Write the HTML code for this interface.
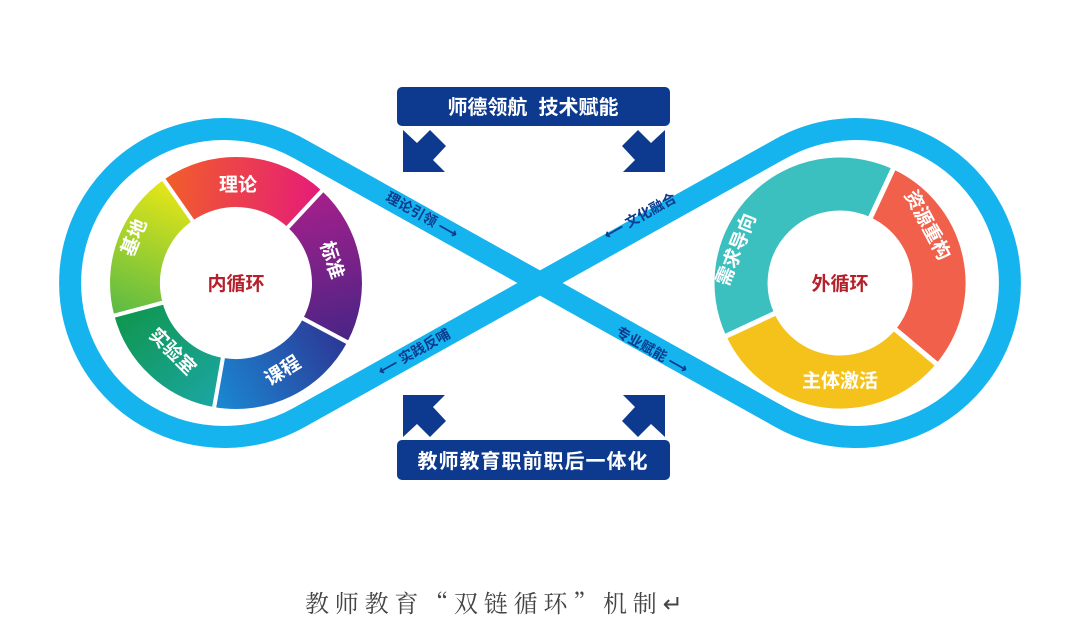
<!DOCTYPE html>
<html><head><meta charset="utf-8"><style>
html,body{margin:0;padding:0;background:#fff;width:1080px;height:626px;overflow:hidden}
svg text{font-family:"Liberation Sans","Noto Sans CJK SC",sans-serif;font-weight:bold}
.cap{position:absolute;left:305px;top:584px;font-family:"Noto Serif CJK SC","Liberation Serif",serif;font-size:24px;letter-spacing:5.8px;color:#444;white-space:nowrap}
</style></head><body>
<svg id="s" width="1080" height="626" viewBox="0 0 1080 626" style="position:absolute;left:0;top:0">
<defs>
<linearGradient id="g1" gradientUnits="userSpaceOnUse" x1="150" y1="180" x2="330" y2="200"><stop offset="0" stop-color="#f26522"/><stop offset="1" stop-color="#e5177d"/></linearGradient>
<linearGradient id="g2" gradientUnits="userSpaceOnUse" x1="300" y1="180" x2="340" y2="340"><stop offset="0" stop-color="#b01f8c"/><stop offset="1" stop-color="#4a2485"/></linearGradient>
<linearGradient id="g3" gradientUnits="userSpaceOnUse" x1="350" y1="320" x2="210" y2="400"><stop offset="0" stop-color="#2e2f8f"/><stop offset="1" stop-color="#1a8ad4"/></linearGradient>
<linearGradient id="g4" gradientUnits="userSpaceOnUse" x1="220" y1="410" x2="120" y2="300"><stop offset="0" stop-color="#1ba7a7"/><stop offset="1" stop-color="#0f9548"/></linearGradient>
<linearGradient id="g5" gradientUnits="userSpaceOnUse" x1="120" y1="320" x2="180" y2="175"><stop offset="0" stop-color="#57b947"/><stop offset="1" stop-color="#f2ea12"/></linearGradient>
</defs>
<g fill="none" stroke="#16b4ee" stroke-width="22" stroke-linejoin="miter">
<path d="M540,283 L300,149 A154,154 0 1 0 300,417 Z"/>
<path d="M540,283 L780,149 A154,154 0 1 1 780,417 Z"/>
</g>
<g id="rings"></g>
<rect x="397" y="87" width="273" height="39" rx="5" fill="#0d3a8e"/>
<rect x="397" y="440" width="273" height="40" rx="5" fill="#0d3a8e"/>
<text x="533" y="114" font-size="20" fill="#fff" text-anchor="middle">师德领航&#160;&#160;技术赋能</text>
<text x="533" y="468" font-size="20" fill="#fff" text-anchor="middle" letter-spacing="1">教师教育职前职后一体化</text>
<g fill="#0d3a8e">
<polygon transform="translate(403,172) scale(1,-1)" points="0,0 42,0 30,12 43,26 27,42 14,29 0,42"/>
<polygon transform="translate(665,172) scale(-1,-1)" points="0,0 42,0 30,12 43,26 27,42 14,29 0,42"/>
<polygon transform="translate(403,395)" points="0,0 42,0 30,12 43,26 27,42 14,29 0,42"/>
<polygon transform="translate(665,395) scale(-1,1)" points="0,0 42,0 30,12 43,26 27,42 14,29 0,42"/>
</g>
<g font-size="14" fill="#0d3a8e" dominant-baseline="central">
<text transform="translate(422,215) rotate(29.2)" text-anchor="middle">理论引领 ⟶</text>
<text transform="translate(414,352) rotate(-29.2)" text-anchor="middle">⟵ 实践反哺</text>
<text transform="translate(640,216) rotate(-29.2)" text-anchor="middle">⟵ 文化融合</text>
<text transform="translate(652,350) rotate(29.2)" text-anchor="middle">专业赋能 ⟶</text>
</g>
<g font-size="19" fill="#fff" text-anchor="middle">
<text transform="translate(238,191)">理论</text>
<text transform="translate(326,262) rotate(72)">标准</text>
<text transform="translate(286,376) rotate(-32)">课程</text>
<text transform="translate(168,356) rotate(45)">实验室</text>
<text transform="translate(140,240) rotate(-68)">基地</text>
<text transform="translate(742,252) rotate(-68)">需求导向</text>
<text transform="translate(922,228) rotate(62)">资源重构</text>
<text x="840" y="387">主体激活</text>
</g>
<g font-size="19" fill="#b5212a" text-anchor="middle">
<text x="236" y="290">内循环</text>
<text x="840" y="290">外循环</text>
</g>
</svg>
<div class="cap">教师教育“双链循环”机制↵</div>
<script>
function sec(cx,cy,ro,ri,a1,a2){var r=Math.PI/180;function p(R,a){return (cx+R*Math.cos(a*r)).toFixed(1)+','+(cy+R*Math.sin(a*r)).toFixed(1);}
var l=(a2-a1)>180?1:0;return 'M'+p(ro,a1)+' A'+ro+','+ro+' 0 '+l+' 1 '+p(ro,a2)+' L'+p(ri,a2)+' A'+ri+','+ri+' 0 '+l+' 0 '+p(ri,a1)+' Z';}
var g=document.getElementById('rings'),h='';
var L=[[-125,-47,'url(#g1)'],[-47,28,'url(#g2)'],[28,100,'url(#g3)'],[100,165,'url(#g4)'],[165,235,'url(#g5)']];
L.forEach(function(s){h+='<path d="'+sec(236,283,128,74,s[0],s[1])+'" fill="'+s[2]+'" stroke="#fff" stroke-width="4"/>';});
var R=[[155,295,'#3cbfbf'],[295,400,'#f0604a'],[40,155,'#f5c21c']];
R.forEach(function(s){h+='<path d="'+sec(840,283,128,70,s[0],s[1])+'" fill="'+s[2]+'" stroke="#fff" stroke-width="5"/>';});
g.innerHTML=h;
</script>
</body></html>
